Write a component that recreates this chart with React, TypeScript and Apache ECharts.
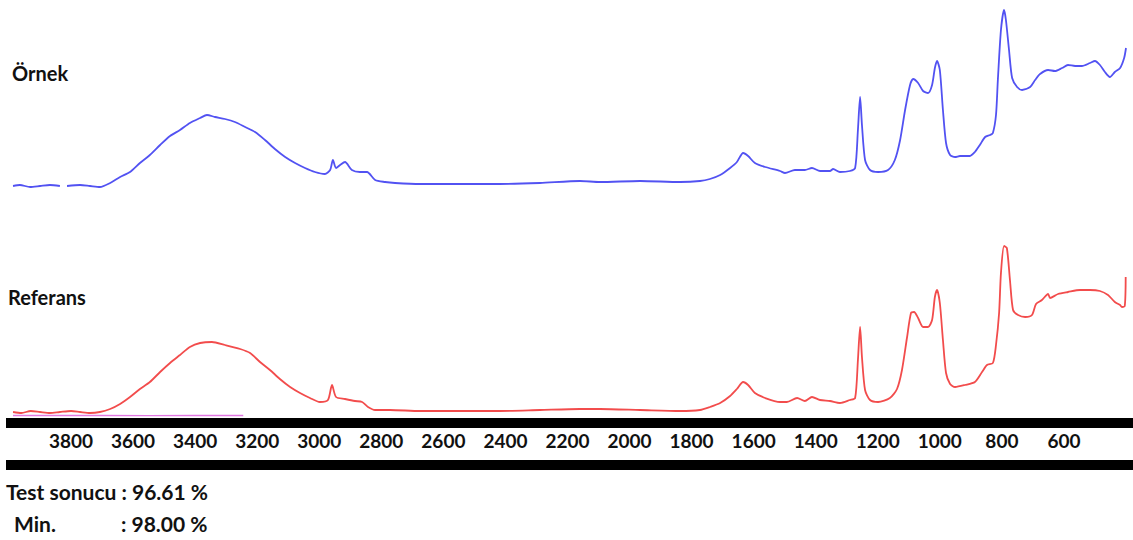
import React, { useEffect, useRef } from "react";
import * as echarts from "echarts";

// Wavenumbers (cm-1) and relative intensities
const sampleWavenumbers = [
  3987, 3965, 3932, 3900, 3868, 3836, 3825, 3813, 3771, 3739, 3707, 3674, 3642, 3610, 3578, 3546, 3513, 3481,
  3449, 3417, 3384, 3362, 3336, 3304, 3272, 3239, 3207, 3175, 3143, 3110, 3078, 3046, 3014, 2982,
  2965, 2956, 2946, 2933, 2917, 2895, 2869, 2846, 2820, 2788, 2756, 2675, 2563, 2418, 2289, 2160,
  2095, 1966, 1837, 1773, 1741, 1708, 1676, 1654, 1634, 1618, 1596, 1563, 1515, 1499, 1467, 1435,
  1412, 1386, 1354, 1344, 1322, 1290, 1273, 1264, 1257, 1251, 1241, 1225, 1199, 1167, 1145, 1128,
  1112, 1096, 1086, 1070, 1054, 1038, 1025, 1016, 1009, 1000, 990, 980, 967, 951, 935, 903, 887,
  871, 854, 838, 829, 819, 813, 803, 793, 787, 777, 767, 751, 735, 709, 693, 677, 651, 629, 606,
  587, 564, 542, 516, 500, 484, 468, 452, 436, 419, 406, 400,
];
const sampleValues = [
  14, 15, 13, 14, 15, 14, null, 14, 15, 14, 13, 17, 23, 28, 37, 45, 55, 64,
  70, 77, 82, 85, 83, 81, 78, 73, 68, 60, 51, 43, 37, 32, 28, 26,
  30, 40, 32, 35, 38, 30, 28, 28, 20, 18, 17, 16, 16, 16, 17, 19,
  18, 19, 18, 19, 21, 25, 32, 38, 47, 44, 37, 33, 29, 27, 30, 30,
  32, 29, 29, 31, 28, 29, 32, 70, 103, 75, 40, 30, 28, 30, 40, 60,
  90, 115, 121, 117, 109, 107, 115, 132, 139, 130, 90, 57, 45, 43, 44, 44, 48,
  55, 63, 65, 67, 85, 120, 170, 190, 180, 150, 122, 113, 110, 113, 120, 126, 130, 129, 132,
  135, 134, 134, 137, 139, 135, 128, 123, 128, 132, 142, 152,
];

const referenceWavenumbers = [
  3987, 3960, 3930, 3900, 3868, 3836, 3800, 3771, 3739, 3707, 3674, 3642, 3610, 3578, 3546, 3513,
  3481, 3449, 3417, 3384, 3346, 3304, 3255, 3223, 3191, 3159, 3127, 3094, 3062, 3030, 2998, 2972,
  2959, 2946, 2917, 2885, 2862, 2843, 2820, 2772, 2675, 2563, 2418, 2289, 2160, 2095, 1966, 1837,
  1773, 1741, 1708, 1676, 1654, 1634, 1618, 1596, 1563, 1515, 1493, 1460, 1435, 1412, 1386, 1354,
  1322, 1290, 1273, 1264, 1257, 1251, 1241, 1225, 1199, 1161, 1138, 1122, 1106, 1093, 1083, 1070,
  1054, 1038, 1025, 1016, 1009, 1000, 990, 980, 967, 951, 919, 887, 864, 848, 829, 819, 809, 803,
  793, 784, 774, 764, 748, 725, 703, 690, 671, 651, 645, 619, 587, 548, 516, 484, 458, 436, 419,
  413, 404, 401,
];
const referenceValues = [
  8, 7, 9, 8, 7, 8, 9, 8, 7, 8, 11, 16, 23, 31, 38, 48,
  57, 65, 73, 77, 78, 75, 71, 67, 58, 50, 41, 33, 27, 22, 18, 20,
  35, 23, 21, 19, 18, 13, 10, 10, 9, 9, 9, 10, 11, 11, 10, 9,
  10, 13, 17, 24, 31, 38, 35, 27, 22, 18, 18, 22, 19, 23, 20, 19,
  17, 20, 22, 60, 93, 63, 30, 20, 18, 22, 31, 50, 82, 107, 108, 102,
  93, 93, 100, 123, 130, 117, 80, 47, 36, 33, 35, 38, 48, 55, 57, 75, 107, 147,
  174, 172, 140, 110, 105, 103, 105, 116, 120, 126, 122, 126, 128, 130, 130, 129, 125, 118, 115,
  113, 114, 143,
];

const traceWavenumbers = [3987, 3850, 3700, 3550, 3400, 3245];
const traceValues = [4.5, 4.5, 4.6, 4.4, 4.5, 4.5];

const tickLabels = [3800, 3600, 3400, 3200, 3000, 2800, 2600, 2400, 2200, 2000, 1800, 1600, 1400, 1200, 1000, 800, 600];

const sampleLabel = "Örnek";
const referenceLabel = "Referans";
const resultText = "Test sonucu : 96.61 %";
const minLabel = "Min.";
const minValue = ": 98.00 %";

const pair = (xs: number[], ys: (number | null)[]) => xs.map((x, i) => [x, ys[i] === null ? "-" : ys[i]]);

const FONT = "Lato, 'Open Sans', sans-serif";

export default function App() {
  const ref = useRef<HTMLDivElement>(null);
  useEffect(() => {
    if (!ref.current) return;
    const chart = echarts.init(ref.current, null, { renderer: "svg" });
    const xBase = {
      type: "value",
      min: 400,
      max: 4000,
      inverse: true,
      axisLine: { show: false },
      axisTick: { show: false },
      splitLine: { show: false },
    };
    chart.setOption({
      animation: false,
      backgroundColor: "#ffffff",
      grid: [
        { left: 9, right: 7, top: 0, height: 200 },
        { left: 9, right: 7, top: 230, height: 190 },
      ],
      xAxis: [
        { ...xBase, gridIndex: 0, axisLabel: { show: false } },
        {
          ...xBase,
          gridIndex: 1,
          axisLabel: {
            show: true,
            customValues: tickLabels,
            formatter: (v: number) => String(v),
            margin: 11,
            color: "#111111",
            fontFamily: FONT,
            fontWeight: "bold",
            fontSize: 19,
          },
        },
      ],
      yAxis: [
        { type: "value", gridIndex: 0, min: 0, max: 200, show: false },
        { type: "value", gridIndex: 1, min: 0, max: 190, show: false },
      ],
      series: [
        {
          type: "line",
          name: sampleLabel,
          xAxisIndex: 0,
          yAxisIndex: 0,
          showSymbol: false,
          connectNulls: false,
          smooth: 0.25,
          data: pair(sampleWavenumbers, sampleValues),
          lineStyle: { color: "#5252f2", width: 1.8 },
          itemStyle: { color: "#5252f2" },
        },
        {
          type: "line",
          name: "trace",
          xAxisIndex: 1,
          yAxisIndex: 1,
          showSymbol: false,
          data: pair(traceWavenumbers, traceValues),
          lineStyle: { color: "#d43fd4", width: 1.3, opacity: 0.7 },
          itemStyle: { color: "#d43fd4" },
        },
        {
          type: "line",
          name: referenceLabel,
          xAxisIndex: 1,
          yAxisIndex: 1,
          showSymbol: false,
          smooth: 0.25,
          data: pair(referenceWavenumbers, referenceValues),
          lineStyle: { color: "#f24c4c", width: 1.8 },
          itemStyle: { color: "#f24c4c" },
        },
      ],
      graphic: [
        { type: "rect", left: 6, top: 418, shape: { width: 1127, height: 10 }, style: { fill: "#000000" } },
        { type: "rect", left: 6, top: 460, shape: { width: 1127, height: 10 }, style: { fill: "#000000" } },
        {
          type: "text",
          left: 12,
          top: 63,
          style: { text: sampleLabel, font: `bold 20px ${FONT}`, fill: "#111111" },
        },
        {
          type: "text",
          left: 8,
          top: 287,
          style: { text: referenceLabel, font: `bold 20px ${FONT}`, fill: "#111111" },
        },
        {
          type: "text",
          left: 6,
          top: 481,
          style: { text: resultText, font: `bold 21px ${FONT}`, fill: "#111111" },
        },
        {
          type: "text",
          left: 14,
          top: 513,
          style: { text: minLabel, font: `bold 21px ${FONT}`, fill: "#111111" },
        },
        {
          type: "text",
          left: 121,
          top: 513,
          style: { text: minValue, font: `bold 21px ${FONT}`, fill: "#111111" },
        },
      ],
    });
    return () => chart.dispose();
  }, []);
  return (
    <div
      ref={ref}
      style={{ position: "fixed", left: 0, top: 0, width: 1133, height: 540, background: "#fff" }}
    />
  );
}
